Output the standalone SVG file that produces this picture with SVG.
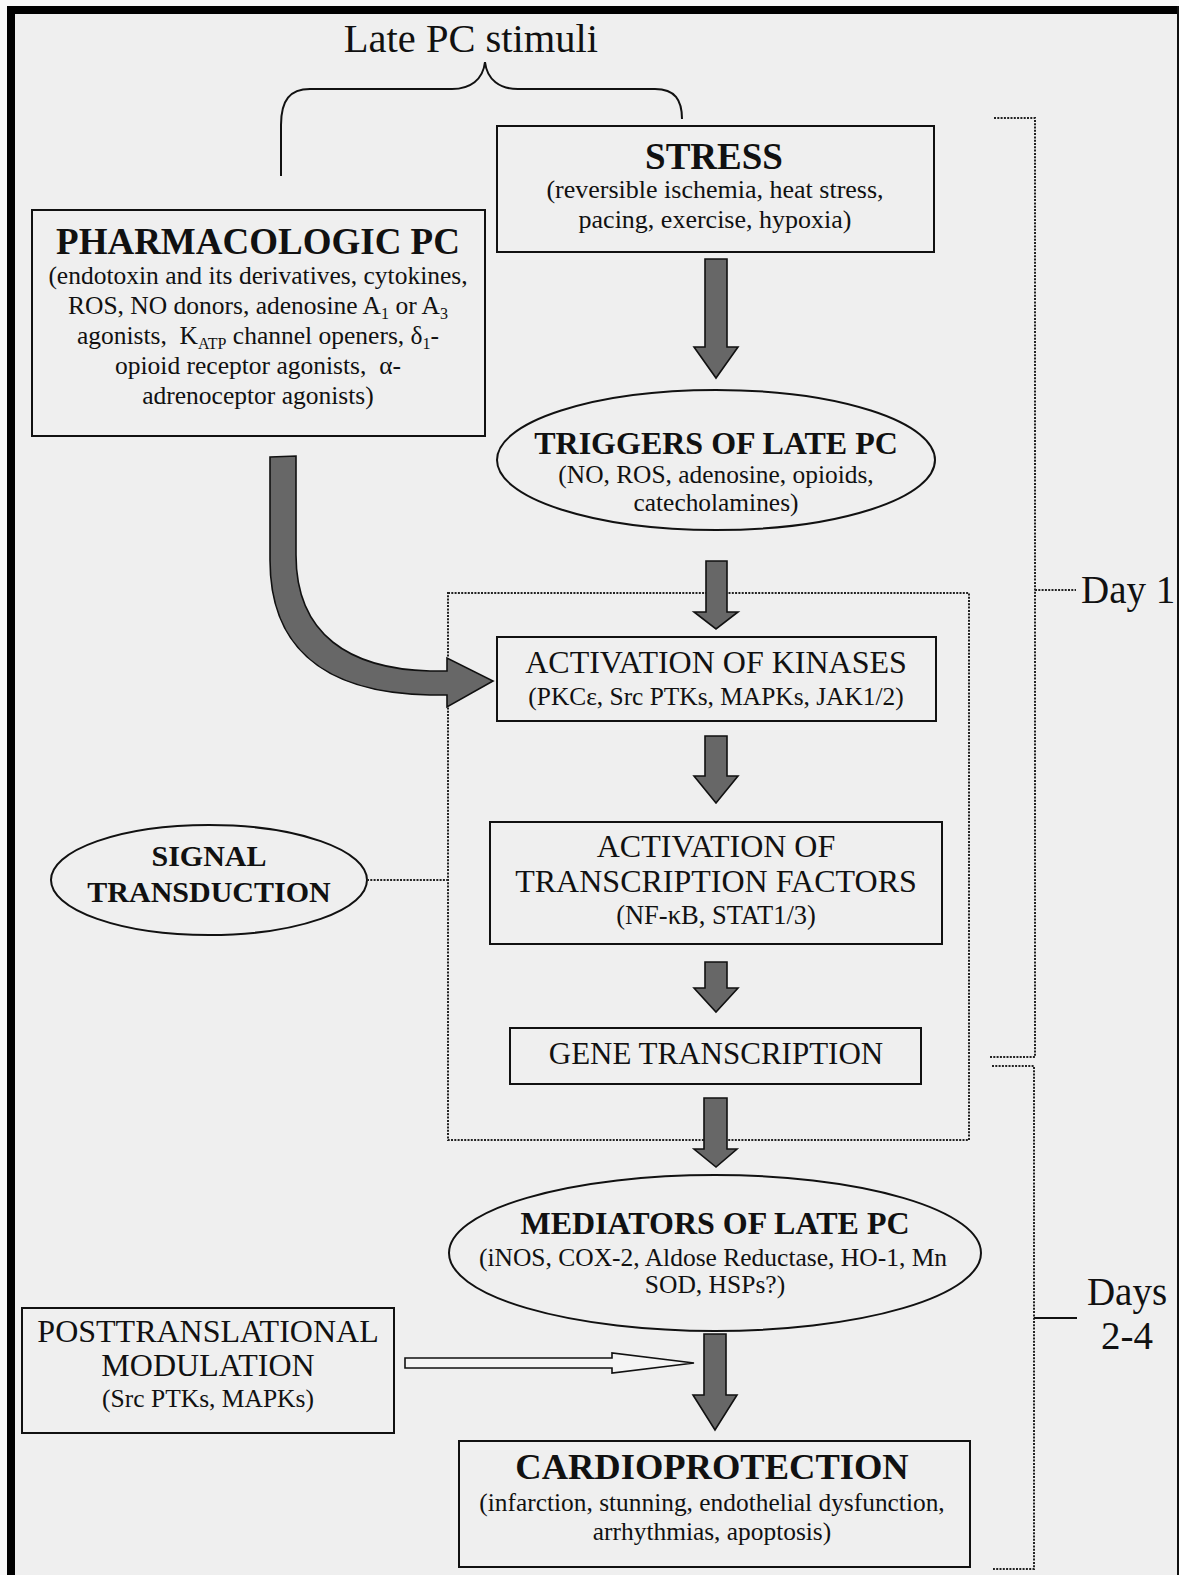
<svg xmlns="http://www.w3.org/2000/svg" width="1179" height="1575" viewBox="0 0 1179 1575">
  <style>
    text { font-family: "Liberation Serif", "Times New Roman", serif; fill: #111; text-anchor: middle; }
    .b { font-weight: bold; }
    .box { fill: none; stroke: #111; stroke-width: 2; }
    .dot { fill: none; stroke: #222; stroke-width: 2; stroke-dasharray: 2 1.3; }
    .fat { fill: #676767; stroke: #111; stroke-width: 1.6; stroke-linejoin: miter; }
    .sub { font-size: 16px; }
  </style>

  <!-- page and frame -->
  <rect x="0" y="0" width="1179" height="1575" fill="#f8f8f8"/>
  <rect x="15" y="14" width="1162" height="1561" fill="#efefef"/>
  <rect x="7" y="6" width="1172" height="8" fill="#000"/>
  <rect x="7" y="6" width="8" height="1569" fill="#000"/>
  <rect x="1177" y="6" width="2" height="1569" fill="#111"/>

  <!-- heading and brace -->
  <g id="late-pc-stimuli">
    <text x="471" y="52" font-size="40.5">Late PC stimuli</text>
    <path d="M281,176 L281,125 C281,100 290,89 310,89 L452,89 C470,89 483,80 485,62 C487,80 500,89 518,89 L655,89 C675,89 682,100 682,119" fill="none" stroke="#111" stroke-width="2"/>
  </g>

  <g id="stress">
    <rect class="box" x="497" y="126" width="437" height="126"/>
    <text class="b" x="714" y="169" font-size="37">STRESS</text>
    <text x="715" y="198" font-size="26">(reversible ischemia, heat stress,</text>
    <text x="715" y="228" font-size="26">pacing, exercise, hypoxia)</text>
  </g>

  <g id="pharmacologic-pc">
    <rect class="box" x="32" y="210" width="453" height="226"/>
    <text class="b" x="258" y="254" font-size="37">PHARMACOLOGIC PC</text>
    <text x="258" y="284" font-size="25.5">(endotoxin and its derivatives, cytokines,</text>
    <text x="258" y="314" font-size="25.5">ROS, NO donors, adenosine A<tspan class="sub" dy="5">1</tspan><tspan dy="-5"> or A</tspan><tspan class="sub" dy="5">3</tspan></text>
    <text x="258" y="344" font-size="25.5">agonists,&#160; K<tspan class="sub" dy="5">ATP</tspan><tspan dy="-5"> channel openers, δ</tspan><tspan class="sub" dy="5">1</tspan><tspan dy="-5">-</tspan></text>
    <text x="258" y="374" font-size="25.5">opioid receptor agonists,&#160; α-</text>
    <text x="258" y="404" font-size="25.5">adrenoceptor agonists)</text>
  </g>

  <g id="triggers">
    <ellipse class="box" cx="716" cy="460" rx="219" ry="70"/>
    <text class="b" x="716" y="454" font-size="32">TRIGGERS OF LATE PC</text>
    <text x="716" y="483" font-size="25.4">(NO, ROS, adenosine, opioids,</text>
    <text x="716" y="511" font-size="25.4">catecholamines)</text>
  </g>

  <g id="signal-transduction-region">
    <rect class="dot" x="448" y="593" width="521" height="547"/>
  </g>

  <g id="kinases">
    <rect class="box" x="497" y="637" width="439" height="84"/>
    <text x="716" y="673" font-size="32">ACTIVATION OF KINASES</text>
    <text x="716" y="705" font-size="25.4">(PKCε, Src PTKs, MAPKs, JAK1/2)</text>
  </g>

  <g id="transcription-factors">
    <rect class="box" x="490" y="822" width="452" height="122"/>
    <text x="716" y="857" font-size="32">ACTIVATION OF</text>
    <text x="716" y="892" font-size="32">TRANSCRIPTION FACTORS</text>
    <text x="716" y="924" font-size="26.5">(NF-κB, STAT1/3)</text>
  </g>

  <g id="gene-transcription">
    <rect class="box" x="510" y="1028" width="411" height="56"/>
    <text x="716" y="1064" font-size="31">GENE TRANSCRIPTION</text>
  </g>

  <g id="signal-transduction">
    <ellipse class="box" cx="209" cy="880" rx="158" ry="55"/>
    <text class="b" x="209" y="866" font-size="30">SIGNAL</text>
    <text class="b" x="209" y="902" font-size="30">TRANSDUCTION</text>
  </g>

  <g id="mediators">
    <ellipse class="box" cx="715" cy="1253" rx="266" ry="78"/>
    <text class="b" x="715" y="1234" font-size="32">MEDIATORS OF LATE PC</text>
    <text x="713" y="1266" font-size="25.5">(iNOS, COX-2, Aldose Reductase, HO-1, Mn</text>
    <text x="715" y="1293" font-size="25.5">SOD, HSPs?)</text>
  </g>

  <g id="posttranslational-modulation">
    <rect class="box" x="22" y="1308" width="372" height="125"/>
    <text x="208" y="1342" font-size="32">POSTTRANSLATIONAL</text>
    <text x="208" y="1376" font-size="32">MODULATION</text>
    <text x="208" y="1407" font-size="25.5">(Src PTKs, MAPKs)</text>
  </g>

  <g id="cardioprotection">
    <rect class="box" x="459" y="1441" width="511" height="126"/>
    <text class="b" x="712" y="1479" font-size="36.5">CARDIOPROTECTION</text>
    <text x="712" y="1511" font-size="25.4">(infarction, stunning, endothelial dysfunction,</text>
    <text x="712" y="1540" font-size="25.4">arrhythmias, apoptosis)</text>
  </g>

  <g id="day-1">
    <path class="dot" d="M994,118 H1035 V1057 H990 M1035,590 H1076" stroke-dasharray="2 1"/>
    <text x="1081" y="603" font-size="39" style="text-anchor:start">Day 1</text>
  </g>

  <g id="days-2-4">
    <path class="dot" d="M992,1066 H1034 V1569 H993" stroke-dasharray="2 1"/>
    <line x1="1034" y1="1318" x2="1077" y2="1318" stroke="#111" stroke-width="2"/>
    <text x="1127" y="1305" font-size="39">Days</text>
    <text x="1127" y="1349" font-size="39">2-4</text>
  </g>

  <!-- connectors -->
  <g id="connectors">
    <path class="fat" d="M705,259 H727 V347 H738 L716,378 L694,347 H705 Z"/>
    <path class="fat" d="M706,561 H727 V612 H738 L716,629 L694,612 H706 Z"/>
    <path class="fat" d="M705,736 H727 V776 H738 L716,803 L694,776 H705 Z"/>
    <path class="fat" d="M705,962 H727 V988 H738 L716,1012 L694,988 H705 Z"/>
    <path class="fat" d="M704,1098 H727 V1149 H737 L716,1167 L694,1149 H704 Z"/>
    <path class="fat" d="M704,1334 H726 V1395 H737 L715,1430 L693,1395 H704 Z"/>
    <path class="fat" d="M270,457 L296,456 L296,555 C296,635 350,669 430,671 L447,671 L447,658 L493,681 L447,707 L447,695 L430,695 C315,693 270,640 270,560 Z"/>
    <path d="M405,1358 H612 V1353 L694,1363 L612,1373 V1368 H405 Z" fill="#f4f4f4" stroke="#111" stroke-width="1.6"/>
    <line class="dot" x1="367" y1="880" x2="448" y2="880" stroke-dasharray="2 1"/>
  </g>
</svg>
